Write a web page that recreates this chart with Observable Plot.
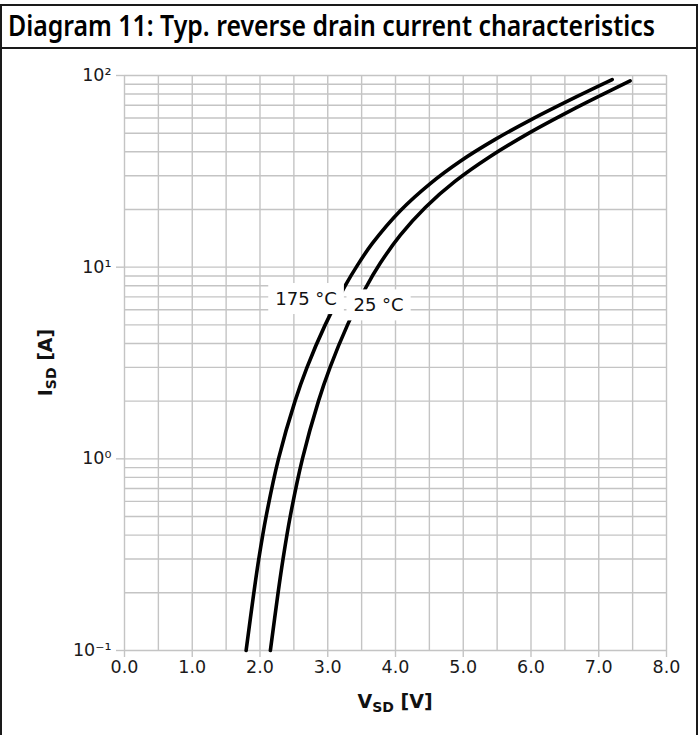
<!DOCTYPE html>
<html><head><meta charset="utf-8">
<script src="https://cdn.jsdelivr.net/npm/d3@7"></script>
<script src="https://cdn.jsdelivr.net/npm/@observablehq/plot@0.6"></script>
<style>
html,body{margin:0;padding:0;background:#fff;}
#frame{position:relative;width:698px;height:735px;overflow:hidden;}
#border{position:absolute;left:0;top:4px;width:698px;height:760px;box-sizing:border-box;border:2px solid #1a1a1a;}
#title{position:absolute;left:0;top:4px;width:698px;height:45px;box-sizing:border-box;border:2px solid #1a1a1a;overflow:hidden;}
#title span{position:absolute;left:6px;top:0px;font-family:"Noto Sans",sans-serif;font-weight:600;font-size:28px;color:#000;white-space:nowrap;transform-origin:0 50%;}
#chart{position:absolute;left:0;top:48px;}
</style></head>
<body>
<div id="frame">
  <div id="border"></div>
  <div id="title"><span id="ttext">Diagram 11: Typ. reverse drain current characteristics</span></div>
  <div id="chart"></div>
</div>
<script>
// ---- data ----
const v175 = [1.795,1.909,1.982,2.09,2.273,2.517,2.694,2.962,3.258,3.451,3.658,4.071,4.513,4.956,5.472,6.003,6.652,7.198];
const i175 = [0.1,0.2,0.3,0.5,1,2,3,5,8.0,10.4,13.3,19.7,27.3,35.7,46.4,58.9,76.9,95.2];
const v25  = [2.153,2.267,2.34,2.446,2.626,2.863,3.034,3.292,3.555,3.776,4.071,4.44,4.882,5.398,5.988,6.578,7.021,7.463];
const i25  = [0.1,0.2,0.3,0.5,1,2,3,5,7.74,10.5,14.7,20.5,28.1,37.8,50.5,65.4,78.5,93.7];
const labelText = ["175 °C","25 °C"];
const labelV = [2.68,3.75];
const labelI = [6.8,6.3];
const xTicks = [0,1,2,3,4,5,6,7,8];
const xGrid = [0,0.5,1,1.5,2,2.5,3,3.5,4,4.5,5,5.5,6,6.5,7,7.5,8];
const yTicks = [0.1,1,10,100];
const yTickLabels = ["10\u207B\u00B9","10\u2070","10\u00B9","10\u00B2"];
const yGrid = [0.1,0.2,0.3,0.4,0.5,0.6,0.7,0.8,0.9,1,2,3,4,5,6,7,8,9,10,20,30,40,50,60,70,80,90,100];

const s175 = v175.map((v,k)=>({V:v,I:i175[k]}));
const s25 = v25.map((v,k)=>({V:v,I:i25[k]}));
const labels = labelText.map((t,k)=>({t, V:labelV[k], I:labelI[k]}));
const gridColor = "#c4c4c4";

const plot = Plot.plot({
  width: 698, height: 687,
  marginLeft: 124, marginRight: 32, marginTop: 27, marginBottom: 85,
  x: {domain: [0, 8]},
  y: {type: "log", domain: [0.1, 100]},
  style: {fontFamily: "DejaVu Sans", fontSize: "17px", background: "transparent", color: "#1a1a1a"},
  marks: [
    Plot.gridX(xGrid, {stroke: gridColor, strokeOpacity: 1, strokeWidth: 1.4}),
    Plot.gridY(yGrid, {stroke: gridColor, strokeOpacity: 1, strokeWidth: 1.4}),
    Plot.axisX(xTicks, {tickFormat: d => d.toFixed(1), tickSize: 7, tickPadding: 3, stroke: gridColor, strokeWidth: 1.4, fill: "#1a1a1a", fontSize: 17.5, label: null}),
    Plot.axisY(yTicks, {tickFormat: d => yTickLabels[yTicks.indexOf(d)], tickSize: 8, tickPadding: 5, stroke: gridColor, strokeWidth: 1.4, fill: "#1a1a1a", fontSize: 17.5, label: null}),
    Plot.line(s175, {x: "V", y: "I", stroke: "#000", strokeWidth: 3.6, curve: "catmull-rom"}),
    Plot.line(s25, {x: "V", y: "I", stroke: "#000", strokeWidth: 3.6, curve: "catmull-rom"}),
    Plot.text(labels, {x: "V", y: "I", text: "t", fontSize: 18, fill: "#111"})
  ]
});
document.getElementById("chart").appendChild(plot);

// white boxes behind curve labels (same transform as the text)
const svg = d3.select(plot);
svg.selectAll("text").each(function() {
  const txt = this.textContent;
  if (labelText.includes(txt)) {
    const bb = this.getBBox();
    const padX = 7, padY = 5;
    const r = d3.select(this.parentNode).insert("rect", () => this)
      .attr("x", bb.x - padX).attr("y", bb.y - padY)
      .attr("width", bb.width + 2*padX).attr("height", bb.height + 2*padY)
      .attr("fill", "#fff");
    const tr = this.getAttribute("transform");
    if (tr) r.attr("transform", tr);
  }
});

// axis labels with subscripts
const xl = svg.append("text").attr("x", 395).attr("y", 660).attr("text-anchor", "middle")
  .attr("font-family", "DejaVu Sans").attr("font-weight", "bold").attr("font-size", 19).attr("fill", "#111");
xl.append("tspan").text("V");
xl.append("tspan").attr("font-size", 14).attr("dy", 4).text("SD");
xl.append("tspan").attr("dy", -4).text(" [V]");
const yl = svg.append("text").attr("transform", "translate(52,314.5) rotate(-90)").attr("text-anchor", "middle")
  .attr("font-family", "DejaVu Sans").attr("font-weight", "bold").attr("font-size", 19).attr("fill", "#111");
yl.append("tspan").text("I");
yl.append("tspan").attr("font-size", 14).attr("dy", 4).text("SD");
yl.append("tspan").attr("dy", -4).text(" [A]");

// fit title width
const tt = document.getElementById("ttext");
const w = tt.getBoundingClientRect().width;
tt.style.transform = `scaleX(${647 / w})`;
</script>
</body></html>
